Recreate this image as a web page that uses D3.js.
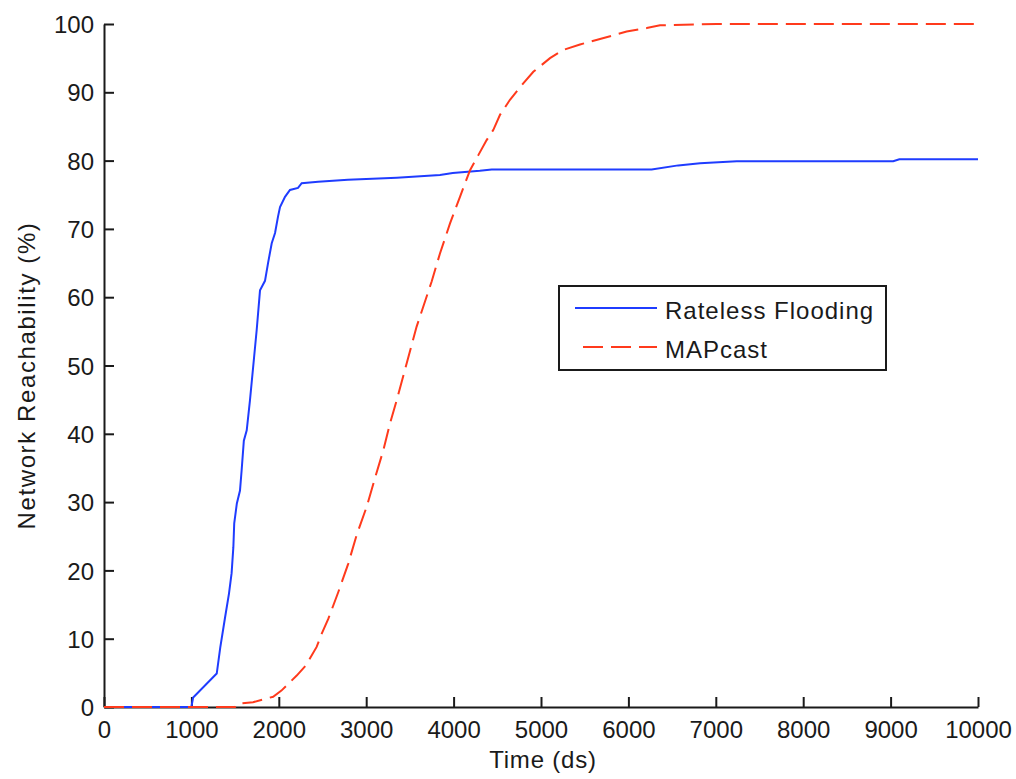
<!DOCTYPE html>
<html>
<head>
<meta charset="utf-8">
<script src="https://cdn.jsdelivr.net/npm/d3@7"></script>
<style>
  html, body { margin: 0; padding: 0; background: #fff; }
  svg text { font-family: "Liberation Sans", Arial, Helvetica, sans-serif; fill: #1a1a1a; }
</style>
</head>
<body>
<svg id="chart" width="1016" height="779"></svg>
<script>
// Network reachability over time for the two dissemination schemes
const ratelessTime  = [0, 1000, 1020, 1290, 1330, 1385, 1430, 1460, 1480, 1490, 1520, 1556, 1575, 1600, 1633, 1670, 1747, 1785, 1842, 1877, 1919, 1957, 1991, 2014, 2071, 2128, 2220, 2262, 2450, 2790, 3350, 3844, 3990, 4300, 4436, 6266, 6570, 6820, 7240, 9030, 9100, 10000];
const ratelessReach = [0, 0, 1.4, 4.9, 8.7, 13.1, 16.6, 19.6, 23.4, 26.9, 29.8, 31.7, 34.7, 39.0, 40.5, 44.9, 55.2, 61.0, 62.4, 65.0, 67.9, 69.4, 71.8, 73.2, 74.7, 75.7, 76.0, 76.7, 76.9, 77.2, 77.5, 77.9, 78.2, 78.5, 78.7, 78.7, 79.3, 79.6, 79.9, 79.9, 80.2, 80.2];

const mapcastTime  = [0, 1500, 1535, 1705, 1935, 2030, 2205, 2310, 2433, 2490, 2566, 2680, 2795, 2891, 3005, 3100, 3196, 3272, 3349, 3577, 3749, 3844, 3959, 4073, 4188, 4283, 4378, 4455, 4531, 4645, 4797, 4912, 5103, 5255, 5446, 5675, 5980, 6209, 6362, 7010, 10000];
const mapcastReach = [0, 0, 0.5, 0.7, 1.5, 2.4, 4.6, 6.1, 8.8, 10.7, 12.9, 16.8, 21.0, 25.2, 29.3, 33.5, 37.6, 41.5, 44.9, 55.7, 62.3, 66.4, 70.8, 74.7, 78.6, 80.8, 83.0, 84.5, 86.7, 88.9, 91.3, 93.0, 95.0, 96.2, 97.0, 97.8, 98.9, 99.4, 99.8, 100, 100];

const xTicks = [0, 1000, 2000, 3000, 4000, 5000, 6000, 7000, 8000, 9000, 10000];
const yTicks = [0, 10, 20, 30, 40, 50, 60, 70, 80, 90, 100];

const seriesNames = ["Rateless Flooding", "MAPcast"];
const xLabel = "Time (ds)";
const yLabel = "Network Reachability (%)";

const svg = d3.select("#chart");
const plot = { left: 104, right: 978, top: 24, bottom: 707 };

const x = d3.scaleLinear().domain([0, 10000]).range([plot.left, plot.right]);
const y = d3.scaleLinear().domain([0, 100]).range([plot.bottom, plot.top]);

const axisColor = "#1a1a1a";
const fontSize = 24;

// Axes: ticks point inward, only left and bottom spines
const xAxis = svg.append("g")
  .attr("transform", `translate(0,${plot.bottom})`)
  .call(d3.axisBottom(x).tickValues(xTicks).tickSizeInner(-10).tickSizeOuter(0).tickPadding(14).tickFormat(d3.format("d")));
const yAxis = svg.append("g")
  .attr("transform", `translate(${plot.left},0)`)
  .call(d3.axisLeft(y).tickValues(yTicks).tickSizeInner(-10).tickSizeOuter(0).tickPadding(10).tickFormat(d3.format("d")));

[xAxis, yAxis].forEach(g => {
  g.select(".domain").attr("stroke", axisColor).attr("stroke-width", 2);
  g.selectAll(".tick line").attr("stroke", axisColor).attr("stroke-width", 2);
  g.selectAll(".tick text")
    .attr("font-size", fontSize)
    .attr("font-family", "Liberation Sans, Arial, sans-serif")
    .attr("fill", axisColor);
});
xAxis.selectAll(".tick text").attr("dy", "0.72em");
yAxis.selectAll(".tick text").attr("dy", "0.36em");

// Axis titles
svg.append("text")
  .attr("x", (plot.left + plot.right) / 2 + 2)
  .attr("y", 768)
  .attr("text-anchor", "middle")
  .attr("font-size", fontSize)
  .attr("letter-spacing", 0.8)
  .text(xLabel);

svg.append("text")
  .attr("transform", `translate(35,${(plot.top + plot.bottom) / 2 + 10}) rotate(-90)`)
  .attr("text-anchor", "middle")
  .attr("font-size", fontSize)
  .attr("letter-spacing", 1.6)
  .text(yLabel);

// Curves
const line = d3.line().x(d => x(d[0])).y(d => y(d[1]));
const ratelessData = ratelessTime.map((t, i) => [t, ratelessReach[i]]);
const mapcastData = mapcastTime.map((t, i) => [t, mapcastReach[i]]);

const blue = "#1f3cff";
const red = "#ff3a1c";

svg.append("path")
  .datum(ratelessData)
  .attr("d", line)
  .attr("fill", "none")
  .attr("stroke", blue)
  .attr("stroke-width", 2);

svg.append("path")
  .datum(mapcastData)
  .attr("d", line)
  .attr("fill", "none")
  .attr("stroke", red)
  .attr("stroke-width", 2)
  .attr("stroke-dasharray", "20,8");

// Legend
const legend = svg.append("g");
legend.append("rect")
  .attr("x", 559).attr("y", 286)
  .attr("width", 327).attr("height", 84)
  .attr("fill", "#fff")
  .attr("stroke", axisColor)
  .attr("stroke-width", 2);

const legendRows = [
  { name: seriesNames[0], color: blue, dash: null, yPos: 308 },
  { name: seriesNames[1], color: red, dash: "20,8", yPos: 347 }
];
legendRows.forEach(r => {
  legend.append("line")
    .attr("x1", r.dash ? 583 : 575).attr("x2", 657)
    .attr("y1", r.yPos).attr("y2", r.yPos)
    .attr("stroke", r.color)
    .attr("stroke-width", 2)
    .attr("stroke-dasharray", r.dash);
  legend.append("text")
    .attr("x", 665)
    .attr("y", r.yPos + 11)
    .attr("font-size", fontSize)
    .attr("letter-spacing", 1.0)
    .text(r.name);
});
</script>
</body>
</html>
